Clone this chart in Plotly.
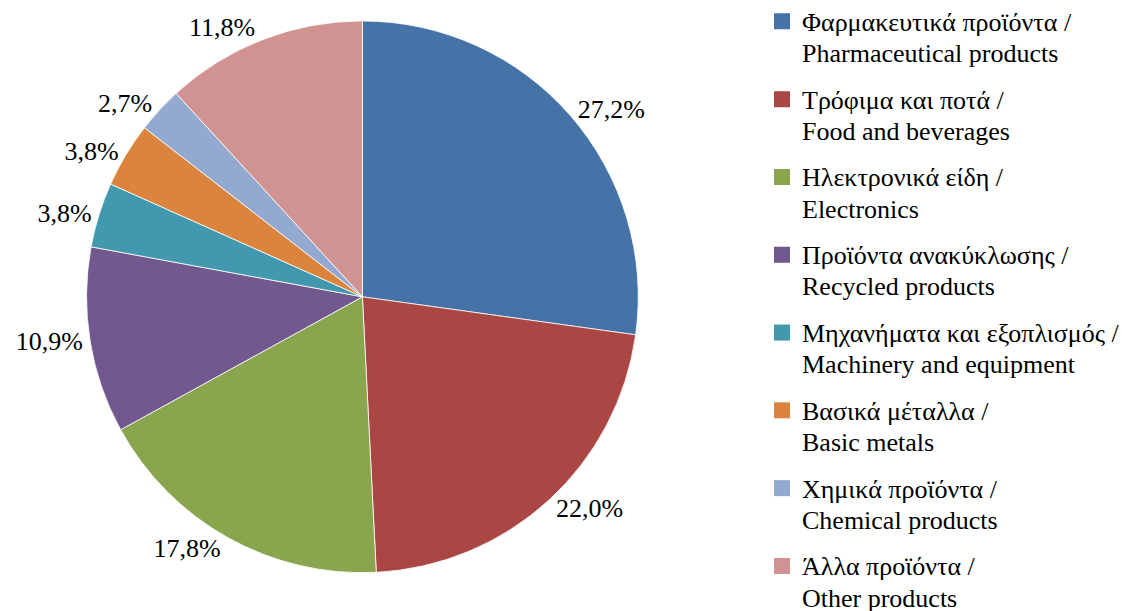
import plotly.graph_objects as go

labels_gr = ["Φαρμακευτικά προϊόντα /", "Τρόφιμα και ποτά /", "Ηλεκτρονικά είδη /",
             "Προϊόντα ανακύκλωσης /", "Μηχανήματα και εξοπλισμός /", "Βασικά μέταλλα /",
             "Χημικά προϊόντα /", "Άλλα προϊόντα /"]
labels_en = ["Pharmaceutical products", "Food and beverages", "Electronics",
             "Recycled products", "Machinery and equipment", "Basic metals",
             "Chemical products", "Other products"]
values = [27.2, 22.0, 17.8, 10.9, 3.8, 3.8, 2.7, 11.8]
colors = ["#4572A7", "#AA4643", "#89A54E", "#71588F", "#4198AF", "#DB843D", "#93A9CF", "#D19392"]

FONT = "Liberation Serif"
SPAN = "<span style='font-size:26px'>{}</span>"
names = [SPAN.format(g) + "<br>" + SPAN.format(e) for g, e in zip(labels_gr, labels_en)]
texts = [f"{v:.1f}%".replace(".", ",") for v in values]

W, H = 1129, 611
LX = 754          # legend left edge (px)
PW = 752          # plot area width left of the legend

fig = go.Figure()
fig.add_trace(go.Pie(
    labels=names, values=values, text=texts, textinfo="text",
    textposition="outside", sort=False, direction="clockwise", rotation=0,
    marker=dict(colors=colors, line=dict(color="white", width=0.8)),
    textfont=dict(family=FONT, size=26, color="black"),
    showlegend=False,
    domain=dict(x=[79 / PW, 639 / PW], y=[1 - 564 / H, 1 - 4 / H]),
))
for i, (n, c) in enumerate(zip(names, colors)):
    fig.add_trace(go.Scatter(
        x=[None], y=[None], mode="markers", name=n, legendgroup=f"g{i}",
        marker=dict(symbol="square", size=16, color=c), showlegend=True,
    ))

fig.update_layout(
    width=W, height=H, margin=dict(l=0, r=W - PW, t=0, b=0),
    paper_bgcolor="white", plot_bgcolor="white",
    xaxis=dict(visible=False), yaxis=dict(visible=False),
    font=dict(family=FONT, color="black"),
    legend=dict(xref="container", yref="paper",
                x=LX / W, xanchor="left", y=1 + 18 / H, yanchor="top",
                maxheight=800,
                font=dict(family=FONT, size=24, color="black"),
                valign="top", tracegroupgap=12.4, itemclick=False, itemdoubleclick=False),
)
fig.write_html("out.html")
